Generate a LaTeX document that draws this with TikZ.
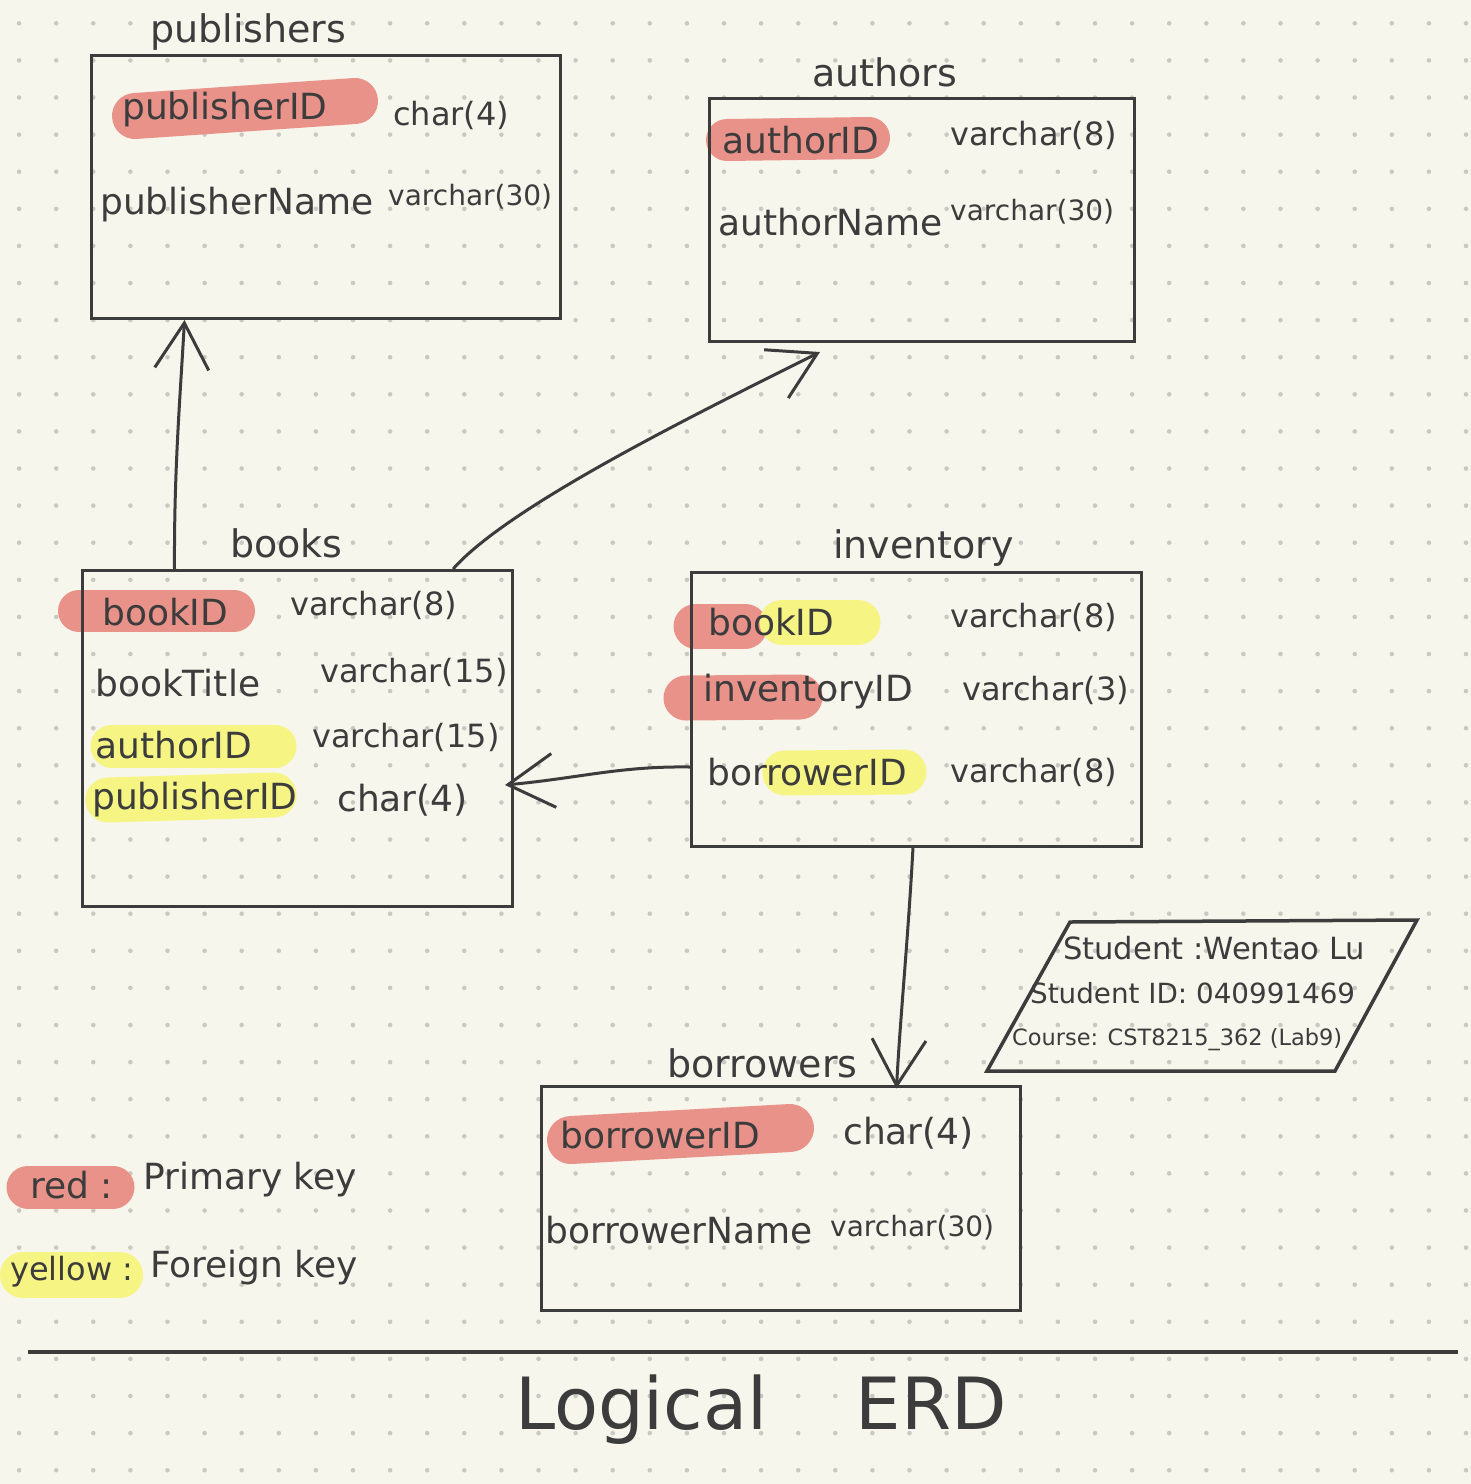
\documentclass[tikz,border=0pt]{standalone}
\usepackage{fontspec}
\setmainfont{DejaVu Sans}
\usetikzlibrary{arrows.meta}
\definecolor{paper}{HTML}{F7F6EC}
\definecolor{ink}{HTML}{3C3C3C}
\definecolor{pk}{HTML}{E8928A}
\definecolor{fk}{HTML}{F6F584}
\definecolor{dotc}{HTML}{C9C9C2}
\newcommand{\fw}[2]{\resizebox{#1pt}{!}{#2}}
\begin{document}
\begin{tikzpicture}[x=1pt,y=-1pt,
  tbl/.style={draw=ink, line width=3pt, inner sep=0pt},
  lbl/.style={anchor=west, inner sep=0pt, text=ink},
  fname/.style={lbl, font=\fontsize{36}{40}\selectfont},
  ftype/.style={lbl, font=\fontsize{32}{36}\selectfont},
  fsmall/.style={lbl, font=\fontsize{28}{32}\selectfont},
  ttl/.style={lbl, font=\fontsize{38}{42}\selectfont},
  pkmark/.style={draw=pk, line cap=round, line width=#1},
  pkmark/.default=44pt,
  fkmark/.style={draw=fk, line cap=round, line width=#1},
  fkmark/.default=44pt,
  link/.style={draw=ink, line width=3pt, line cap=round,
    -{Straight Barb[length=46pt,width=54pt]}}
]
% paper and dot grid
\fill[paper] (0,0) rectangle (1471,1484);
\useasboundingbox (0,0) rectangle (1471,1484);
\foreach \i in {0,...,39}{
  \foreach \j in {0,...,39}{
    \fill[dotc] (19.1+37.1*\i, 23.3+37.1*\j) circle (2.3pt);
  }
}

% highlights
\draw[pkmark=46pt] (135,116) -- (355,101);
\draw[pkmark=42pt] (727,140) -- (869,138);
\draw[pkmark=42pt] (79,611) -- (234,611);
\draw[fkmark=43pt] (112,746) -- (275,746);
\draw[fkmark=45pt] (108,800) -- (274,795);
\draw[pkmark=45pt] (696,626) -- (745,626);
\draw[fkmark=45pt] (782,622) -- (858,622);
\draw[pkmark=45pt] (686,698) -- (800,697);
\draw[fkmark=45pt] (785,773) -- (904,772);
\draw[pkmark=48pt] (571,1140) -- (790,1128);
\draw[pkmark=43pt] (28,1187) -- (113,1187);
\draw[fkmark=46pt] (23,1275) -- (120,1275);

% tables
\node[tbl, minimum width=469pt, minimum height=263pt] (publishers) at (325.5,187) {};
\node[tbl, minimum width=425pt, minimum height=243pt] (authors) at (921.5,219.5) {};
\node[tbl, minimum width=430pt, minimum height=336pt] (books) at (297,738) {};
\node[tbl, minimum width=450pt, minimum height=274pt] (inventory) at (916,709) {};
\node[tbl, minimum width=479pt, minimum height=224pt] (borrowers) at (780.5,1198) {};

% titles
\node[ttl] (tpub) at (150,32) {publishers};
\node[ttl] (taut) at (812,72) {authors};
\node[ttl] (tbook) at (230,543) {books};
\node[ttl] (tinv) at (833,548) {inventory};
\node[ttl] (tbor) at (667,1063) {borrowers};

% publishers fields
\node[fname] (p1) at (122,110) {publisherID};
\node[ftype] (p1t) at (393,115) {char(4)};
\node[fname] (p2) at (100,205) {publisherName};
\node[fsmall] (p2t) at (388,197) {varchar(30)};

% authors fields
\node[fname] (a1) at (722,140) {authorID};
\node[ftype] (a1t) at (950,135) {varchar(8)};
\node[fname] (a2) at (718,222) {authorName};
\node[fsmall] (a2t) at (950,212) {varchar(30)};

% books fields
\node[fname] (b1) at (102,612) {bookID};
\node[ftype] (b1t) at (290,605) {varchar(8)};
\node[fname] (b2) at (95,683) {bookTitle};
\node[ftype] (b2t) at (320,672) {varchar(15)};
\node[fname] (b3) at (95,745) {authorID};
\node[ftype] (b3t) at (312,737) {varchar(15)};
\node[fname] (b4) at (92,800) {publisherID};
\node[fname] (b4t) at (337,800) {char(4)};

% inventory fields
\node[fname] (i1) at (708,622) {bookID};
\node[ftype] (i1t) at (950,617) {varchar(8)};
\node[fname] (i2) at (703,692) {inventoryID};
\node[ftype] (i2t) at (962,690) {varchar(3)};
\node[fname] (i3) at (707,772) {borrowerID};
\node[ftype] (i3t) at (950,772) {varchar(8)};

% borrowers fields
\node[fname] (r1) at (560,1135) {borrowerID};
\node[fname] (r1t) at (843,1133) {char(4)};
\node[fname] (r2) at (545,1230) {borrowerName};
\node[fsmall] (r2t) at (830,1228) {varchar(30)};

% connectors
\draw[link] ([xshift=94pt]books.north west) .. controls (174,470) and (180,400) .. ([xshift=95pt]publishers.south west);
\coordinate (autip) at (820,352);
\draw[link] ([xshift=373pt]books.north west) .. controls (510,505) and (700,412) .. (autip);
\coordinate (bktip) at (505,785);
\draw[link] ([yshift=-58pt]inventory.west) .. controls (620,766) and (580,778) .. (bktip);
\draw[link] ([xshift=-3pt]inventory.south) .. controls (908,940) and (900,1020) .. ([xshift=357pt,yshift=-4pt]borrowers.north west);

% student note
\draw[ink, line width=3.5pt, line join=miter] (1070,922) -- (1417,920) -- (1335,1071) -- (987,1071) -- cycle;
\node[lbl] (n1) at (1063,948) {\fw{302}{Student :Wentao Lu}};
\node[lbl] (n2) at (1030,993) {\fw{325}{Student ID: 040991469}};
\node[lbl] (n3) at (1012,1040) {\fw{330}{Course: CST8215\_362 (Lab9)}};

% legend
\node[fname] (l1) at (30,1185) {red :};
\node[fname] (l1t) at (143,1180) {Primary key};
\node[ftype] (l2) at (10,1272) {yellow :};
\node[fname] (l2t) at (150,1268) {Foreign key};

% footer
\coordinate (fl) at (28,1352);
\coordinate (fr) at (1458,1352);
\draw[ink, line width=3.5pt] (fl) -- (fr);
\node[lbl] (ttlerd) at (515,1410) {\fontsize{72}{80}\selectfont Logical\hspace{88pt}ERD};
\end{tikzpicture}
\end{document}
